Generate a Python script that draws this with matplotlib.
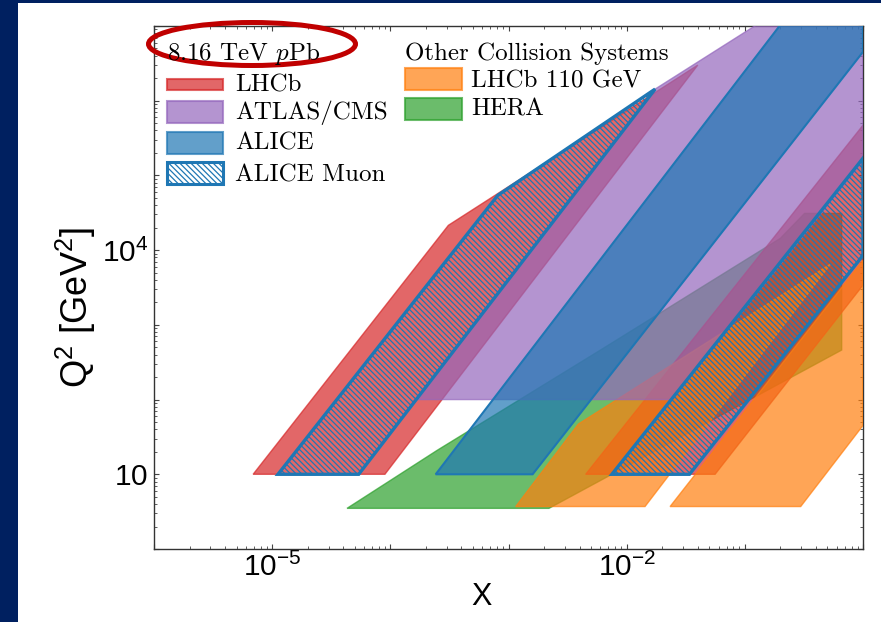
import matplotlib
matplotlib.use('Agg')
import matplotlib.pyplot as plt
from matplotlib.patches import Rectangle, Ellipse
from matplotlib.colors import to_rgba

plt.rcParams['font.family'] = ['Liberation Sans', 'DejaVu Sans']
plt.rcParams['mathtext.fontset'] = 'cm'
plt.rcParams['hatch.linewidth'] = 0.9

# kinematic regions: x and Q^2 [GeV^2]
lhcb_bwd_x = [6.9e-6, 3.1e-4, 4.0e-2, 9.0e-5]
lhcb_bwd_q2 = [10, 2.15e4, 3.0e6, 10]
lhcb_fwd_x = [4.5e-3, 1.0, 1.0, 5.6e-2]
lhcb_fwd_q2 = [10, 4.7e5, 3.4e3, 10]
atlas_x = [1.64e-4, 1.74e-2, 1.0, 1.0, 2.42e-2]
atlas_q2 = [100, 1.43e6, 8.3e7, 1.55e5, 100]
alice_x = [2.42e-4, 0.6, 1.0, 1.0, 1.6e-3]
alice_q2 = [10, 1e8, 1e8, 4.5e6, 10]
muon_bwd_x = [1.12e-5, 8.1e-4, 1.74e-2, 5.4e-5]
muon_bwd_q2 = [10, 5.4e4, 1.43e6, 10]
muon_fwd_x = [7.5e-3, 1.0, 1.0, 3.4e-2]
muon_fwd_q2 = [10, 1.7e5, 8.5e3, 10]
smog_a_x = [1.15e-3, 3.9e-3, 0.53, 1.43e-2]
smog_a_q2 = [3.7, 47, 6.5e3, 3.7]
smog_b_x = [2.33e-2, 1.0, 1.0, 0.297]
smog_b_q2 = [3.7, 7.3e3, 45, 3.7]
hera_x = [4.3e-5, 2.5e-4, 6.0e-3, 0.2, 0.32, 0.66, 0.66, 2.2e-3]
hera_q2 = [3.5, 21, 460, 1.44e4, 3.1e4, 3.1e4, 460, 3.5]

x_decades = [1e-6, 1e-5, 1e-4, 1e-3, 1e-2, 1e-1, 1]
x_labels = {1e-5: r'$\mathregular{10^{-5}}$', 1e-2: r'$\mathregular{10^{-2}}$'}
y_decades = [1, 10, 1e2, 1e3, 1e4, 1e5, 1e6, 1e7]
y_labels = {10: r'$\mathregular{10}$', 1e4: r'$\mathregular{10^{4}}$'}

pPb_names = ['LHCb', 'ATLAS/CMS', 'ALICE', 'ALICE Muon']
pPb_colors = ['tab:red', 'tab:purple', 'tab:blue', 'tab:blue']
other_names = ['LHCb 110 GeV', 'HERA']
other_colors = ['tab:orange', 'tab:green']

A = 0.7
HATCH = '\\\\\\\\\\\\'

fig = plt.figure(figsize=(8.81, 6.22), dpi=100, facecolor='#002060')
fig.add_artist(Rectangle((18 / 881, 0), 1, 1 - 3 / 622, transform=fig.transFigure,
                         facecolor='white', edgecolor='none', zorder=-10))

ax = fig.add_axes([154 / 881, 1 - 549 / 622, 709 / 881, 523 / 622])
ax.set_xscale('log')
ax.set_yscale('log')


def region(xs, qs, color, z, lw=1.0):
    ax.fill(xs, qs, facecolor=to_rgba(color, A), edgecolor=to_rgba(color, A),
            lw=lw, zorder=z)


region(hera_x, hera_q2, 'tab:green', 1)
region(lhcb_bwd_x, lhcb_bwd_q2, 'tab:red', 2)
region(lhcb_fwd_x, lhcb_fwd_q2, 'tab:red', 2)
region(smog_a_x, smog_a_q2, 'tab:orange', 3)
region(smog_b_x, smog_b_q2, 'tab:orange', 3)
region(atlas_x, atlas_q2, 'tab:purple', 4)
ax.fill(alice_x, alice_q2, facecolor=to_rgba('tab:blue', A), edgecolor='tab:blue',
        lw=1.5, zorder=5)
for xs, qs in [(muon_bwd_x, muon_bwd_q2), (muon_fwd_x, muon_fwd_q2)]:
    ax.fill(xs, qs, facecolor='none', edgecolor='tab:blue', hatch=HATCH,
            lw=2.4, zorder=6)

ax.set_xlim(1e-6, 1)
ax.set_ylim(1, 1e7)
ax.set_xticks(x_decades, [x_labels.get(v, '') for v in x_decades])
ax.set_yticks(y_decades, [y_labels.get(v, '') for v in y_decades])
ax.tick_params(which='both', direction='in', top=True, right=True, color='#444444')
ax.tick_params(which='major', length=3.5, width=0.8, labelsize=21.5)
ax.tick_params(which='minor', length=2, width=0.6)
ax.tick_params(axis='x', pad=3)
ax.tick_params(axis='y', pad=4)
for sp in ax.spines.values():
    sp.set_color('#333333')
    sp.set_linewidth(1.0)

fig.text(481 / 881, 1 - 597 / 622, 'X', fontsize=22, ha='center', va='center')
fig.text(76 / 881, 1 - 307 / 622, r'$\mathregular{Q^2\ [GeV^2]}$', fontsize=26,
         rotation=90, ha='center', va='center')

# legend and annotation drawn on a pixel overlay
ov = fig.add_axes([0, 0, 1, 1], zorder=5)
ov.set_xlim(0, 881)
ov.set_ylim(622, 0)
ov.axis('off')

serif = dict(family='cmr10', fontsize=18, va='baseline')
ov.text(167, 60, r'8.16 TeV $p$Pb', **serif)
ov.text(405, 60, 'Other Collision Systems', **serif)

col1_tops = [79, 101, 132, 162]
col1_h = [11, 22, 22, 22]
col1_base = [91, 119, 150, 181]
for name, c, top, h, base in zip(pPb_names, pPb_colors, col1_tops, col1_h, col1_base):
    if name == 'ALICE Muon':
        ov.add_patch(Rectangle((167, top), 56, h, facecolor='none', edgecolor=c,
                               hatch=HATCH, lw=2.2))
    else:
        ov.add_patch(Rectangle((167, top), 56, h, facecolor=to_rgba(c, A),
                               edgecolor=to_rgba(c, A), lw=1.5))
    ov.text(235, base, name, **serif)

col2_tops = [68, 98]
col2_base = [87, 116]
for name, c, top, base in zip(other_names, other_colors, col2_tops, col2_base):
    ov.add_patch(Rectangle((405, top), 57, 22, facecolor=to_rgba(c, A),
                           edgecolor=to_rgba(c, A), lw=1.5))
    ov.text(471, base, name, **serif)

ov.add_patch(Ellipse((252, 44), 207, 43, fill=False, edgecolor='#C00000', lw=3.6))

fig.savefig('out.png', dpi=100, facecolor=fig.get_facecolor())
